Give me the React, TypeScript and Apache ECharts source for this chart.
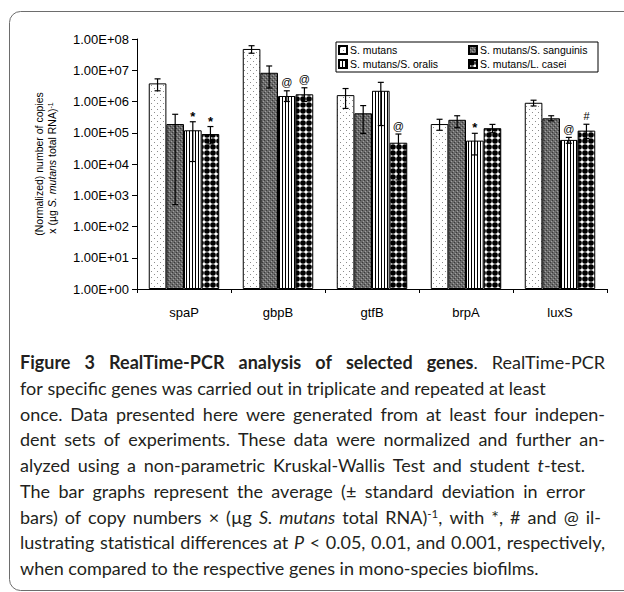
import React, { useEffect, useRef } from "react";
import * as echarts from "echarts";

const categories = ["spaP", "gbpB", "gtfB", "brpA", "luxS"];
const seriesNames = [
  "S. mutans",
  "S. mutans/S. sanguinis",
  "S. mutans/S. oralis",
  "S. mutans/L. casei",
];

const mutansMean = [3.8e6, 4.8e7, 1.6e6, 1.9e5, 9.1e5];
const mutansLow = [2.2e6, 3.5e7, 6.0e5, 1.2e5, 7.2e5];
const mutansHigh = [5.3e6, 6.1e7, 2.6e6, 2.7e5, 1.1e6];

const sanguinisMean = [1.9e5, 8.3e6, 4.2e5, 2.6e5, 2.9e5];
const sanguinisLow = [500, 2.7e6, 9.5e4, 1.45e5, 2.4e5];
const sanguinisHigh = [3.9e5, 1.37e7, 7.4e5, 3.5e5, 3.5e5];

const oralisMean = [1.2e5, 1.5e6, 2.2e6, 5.6e4, 5.9e4];
const oralisLow = [1.2e4, 1.0e6, 1.7e5, 1.95e4, 4.6e4];
const oralisHigh = [2.25e5, 2.2e6, 4.1e6, 9.6e4, 7.1e4];

const caseiMean = [9.1e4, 1.7e6, 4.8e4, 1.4e5, 1.17e5];
const caseiLow = [4.4e4, 1.0e6, 3.1e3, 1.0e5, 6.6e4];
const caseiHigh = [1.58e5, 2.75e6, 9.1e4, 1.85e5, 1.87e5];

const mutansMarks = ["", "", "", "", ""];
const sanguinisMarks = ["", "", "", "", ""];
const oralisMarks = ["*", "@", "", "*", "@"];
const caseiMarks = ["*", "@", "@", "", "#"];

const captionLines = [
  "{b|Figure 3 RealTime-PCR analysis of selected genes}. RealTime-PCR",
  "for specific genes was carried out in triplicate and repeated at least",
  "once. Data presented here were generated from at least four indepen-",
  "dent sets of experiments. These data were normalized and further an-",
  "alyzed using a non-parametric Kruskal-Wallis Test and student {i|t}-test.",
  "The bar graphs represent the average (± standard deviation in error",
  "bars) of copy numbers × (µg {i|S. mutans} total RNA){s|-1}, with *, # and @ il-",
  "lustrating statistical differences at {i|P} < 0.05, 0.01, and 0.001, respectively,",
  "when compared to the respective genes in mono-species biofilms.",
];
// right edge of each caption line (0 = natural width)
const captionRightEdges = [605, 0, 605, 605, 585, 585, 601, 605, 0];

const means = [mutansMean, sanguinisMean, oralisMean, caseiMean];
const lows = [mutansLow, sanguinisLow, oralisLow, caseiLow];
const highs = [mutansHigh, sanguinisHigh, oralisHigh, caseiHigh];
const marks = [mutansMarks, sanguinisMarks, oralisMarks, caseiMarks];

function makePattern(kind: number): HTMLCanvasElement {
  const c = document.createElement("canvas");
  const ctx = c.getContext("2d") as CanvasRenderingContext2D;
  if (kind === 0) {
    c.width = 6;
    c.height = 6;
    ctx.fillStyle = "#ffffff";
    ctx.fillRect(0, 0, 6, 6);
    ctx.fillStyle = "#8c8c8c";
    ctx.fillRect(1, 1, 1, 1);
    ctx.fillRect(4, 4, 1, 1);
  } else if (kind === 1) {
    c.width = 4;
    c.height = 4;
    ctx.fillStyle = "#6a6a6a";
    ctx.fillRect(0, 0, 4, 4);
    ctx.fillStyle = "#3a3a3a";
    ctx.fillRect(0, 0, 1, 1);
    ctx.fillRect(2, 2, 1, 1);
    ctx.fillStyle = "#a0a0a0";
    ctx.fillRect(1, 3, 1, 1);
    ctx.fillRect(3, 1, 1, 1);
  } else if (kind === 2) {
    c.width = 3;
    c.height = 3;
    ctx.fillStyle = "#ffffff";
    ctx.fillRect(0, 0, 3, 3);
    ctx.fillStyle = "#000000";
    ctx.fillRect(0, 0, 1, 3);
  } else {
    c.width = 6;
    c.height = 6;
    ctx.fillStyle = "#ffffff";
    ctx.fillRect(0, 0, 6, 6);
    ctx.fillStyle = "#000000";
    ctx.beginPath();
    ctx.arc(3, 3, 2.8, 0, Math.PI * 2);
    ctx.fill();
  }
  return c;
}

type Seg = { st: string; t: string };

function parseRich(line: string): Seg[] {
  const out: Seg[] = [];
  const re = /\{(\w)\|([^}]*)\}|([^{]+)/g;
  let m: RegExpExecArray | null;
  while ((m = re.exec(line))) {
    if (m[1]) out.push({ st: m[1], t: m[2] });
    else out.push({ st: "r", t: m[3] });
  }
  return out;
}

function splitWords(segs: Seg[]): Seg[][] {
  const words: Seg[][] = [];
  let cur: Seg[] = [];
  for (const sg of segs) {
    const parts = sg.t.split(" ");
    parts.forEach((p, idx) => {
      if (idx > 0) {
        if (cur.length) words.push(cur);
        cur = [];
      }
      if (p.length) cur.push({ st: sg.st, t: p });
    });
  }
  if (cur.length) words.push(cur);
  return words;
}

export default function App() {
  const ref = useRef<HTMLDivElement>(null);

  useEffect(() => {
    if (!ref.current) return;
    const chart = echarts.init(ref.current, undefined, { renderer: "svg" });

    const errItems: { cat: number; s: number; low: number; high: number; mark: string }[] = [];
    for (let s = 0; s < 4; s++) {
      for (let i = 0; i < categories.length; i++) {
        errItems.push({ cat: i, s, low: lows[s][i], high: highs[s][i], mark: marks[s][i] });
      }
    }

    const catGap = 0.25;
    const chartFont = "Liberation Sans, Arial, sans-serif";
    const capFamily = "Lato";
    const capFont = "Lato, Open Sans, sans-serif";
    const capSize = 18;
    const supSize = 11.5;
    const capColor = "#231f20";

    const barSeries = seriesNames.map((name, s) => {
      const pat = makePattern(s);
      return {
        name,
        type: "bar",
        data: means[s],
        barGap: "0%",
        barCategoryGap: "25%",
        itemStyle: {
          color: { image: pat, repeat: "repeat", imageWidth: pat.width, imageHeight: pat.height },
          borderColor: "#000",
          borderWidth: 1,
        },
      };
    });

    // caption: justified word layout
    const mc = document.createElement("canvas").getContext("2d") as CanvasRenderingContext2D;
    const fontFor = (st: string) => {
      if (st === "b") return `bold ${capSize}px "${capFamily}"`;
      if (st === "i") return `italic ${capSize}px "${capFamily}"`;
      if (st === "s") return `${supSize}px "${capFamily}"`;
      return `${capSize}px "${capFamily}"`;
    };
    const segW = (sg: Seg) => {
      mc.font = fontFor(sg.st);
      return mc.measureText(sg.t).width;
    };
    mc.font = fontFor("r");
    const spaceW = mc.measureText(" ").width;

    const richStyles = {
      r: { fontFamily: capFont, fontSize: capSize, fill: capColor },
      b: { fontWeight: "bold", fontFamily: capFont, fontSize: capSize, fill: capColor },
      i: { fontStyle: "italic", fontFamily: capFont, fontSize: capSize, fill: capColor },
      s: { fontFamily: capFont, fontSize: supSize, fill: capColor, verticalAlign: "top" },
    };

    const capLineY0 = 362;
    const capPitch = 25.75;
    const capLeft = 20;
    const captionGraphics: any[] = [];
    captionLines.forEach((line, k) => {
      const words = splitWords(parseRich(line));
      const widths = words.map((w) => w.reduce((a, sg) => a + segW(sg), 0));
      const natural = widths.reduce((a, b) => a + b, 0);
      const target = captionRightEdges[k];
      let gap = spaceW;
      if (target > 0 && words.length > 1) {
        gap = (target - capLeft - natural) / (words.length - 1);
        if (gap < spaceW * 0.6) gap = spaceW * 0.6;
      }
      let x = capLeft;
      words.forEach((w, wi) => {
        const text = w.map((sg) => `{${sg.st}|${sg.t}}`).join("");
        captionGraphics.push({
          type: "text",
          x,
          y: capLineY0 + k * capPitch,
          silent: true,
          style: {
            text,
            fontFamily: capFont,
            fontSize: capSize,
            fill: capColor,
            textVerticalAlign: "middle",
            rich: richStyles,
          },
        });
        x += widths[wi] + gap;
      });
    });

    const option: any = {
      animation: false,
      backgroundColor: "#ffffff",
      textStyle: { fontFamily: chartFont },
      grid: { left: 137, right: 17, top: 39, bottom: 303, containLabel: false },
      legend: {
        data: seriesNames,
        left: 336,
        top: 42,
        width: 266,
        orient: "horizontal",
        padding: [2, 2, 2, 2],
        itemGap: 2,
        itemWidth: 8,
        itemHeight: 8,
        icon: "rect",
        borderColor: "#000",
        borderWidth: 1,
        borderRadius: 0,
        textStyle: {
          fontFamily: chartFont,
          fontSize: 10.5,
          color: "#000",
          width: 116,
          lineHeight: 12,
          padding: [0, 0, 0, -2],
        },
      },
      xAxis: {
        type: "category",
        data: categories,
        boundaryGap: true,
        axisLine: { show: true, lineStyle: { color: "#000", width: 1 } },
        axisTick: { show: true, length: 4, lineStyle: { color: "#000" } },
        axisLabel: { color: "#000", fontSize: 13, margin: 17, fontFamily: chartFont },
        splitLine: { show: false },
      },
      yAxis: {
        type: "log",
        logBase: 10,
        min: 1,
        max: 1e8,
        splitNumber: 8,
        axisLine: { show: true, lineStyle: { color: "#000", width: 1 } },
        axisTick: { show: true, length: 5, lineStyle: { color: "#000" } },
        axisLabel: {
          color: "#000",
          fontSize: 13,
          margin: 8,
          fontFamily: chartFont,
          formatter: (v: number) => {
            const e = Math.round(Math.log10(v));
            return "1.00E+" + (e < 10 ? "0" : "") + e;
          },
        },
        splitLine: { show: false },
      },
      series: [
        ...barSeries,
        {
          name: "err",
          type: "custom",
          z: 10,
          clip: false,
          itemStyle: { color: "#000" },
          encode: { x: 0, y: 1 },
          data: errItems.map((e) => [e.cat, e.high]),
          renderItem: (params: any, api: any) => {
            const it = errItems[params.dataIndex];
            const c0 = api.coord([0, 1]);
            const c1 = api.coord([1, 1]);
            const band = c1[0] - c0[0];
            const total = band * (1 - catGap);
            const bw = total / 4;
            const pH = api.coord([it.cat, it.high]);
            const pL = api.coord([it.cat, it.low]);
            const x = pH[0] - total / 2 + bw * (it.s + 0.5);
            const cap = 3;
            const ls = { stroke: "#000", lineWidth: 1.2 };
            const children: any[] = [
              { type: "line", shape: { x1: x, y1: pH[1], x2: x, y2: pL[1] }, style: ls },
              { type: "line", shape: { x1: x - cap, y1: pH[1], x2: x + cap, y2: pH[1] }, style: ls },
              { type: "line", shape: { x1: x - cap, y1: pL[1], x2: x + cap, y2: pL[1] }, style: ls },
            ];
            if (it.mark) {
              children.push({
                type: "text",
                x: x,
                y: pH[1] - (it.mark === "*" ? -1 : 3),
                style: {
                  text: it.mark,
                  fontFamily: chartFont,
                  fontSize: it.mark === "*" ? 13 : 11,
                  fontWeight: it.mark === "*" ? "bold" : "normal",
                  fill: "#000",
                  textAlign: "center",
                  textVerticalAlign: "bottom",
                },
              });
            }
            return { type: "group", children };
          },
        },
      ],
      graphic: [
        {
          type: "rect",
          silent: true,
          shape: { x: 9.5, y: 11.5, width: 700, height: 579, r: 11 },
          style: { fill: "none", stroke: "#6d6d6d", lineWidth: 1 },
        },
        {
          type: "text",
          x: 39,
          y: 164,
          rotation: Math.PI / 2,
          silent: true,
          style: {
            text: "(Normalized) number of copies",
            fontFamily: chartFont,
            fontSize: 10.5,
            fill: "#000",
            textAlign: "center",
            textVerticalAlign: "middle",
          },
        },
        {
          type: "text",
          x: 52,
          y: 168,
          rotation: Math.PI / 2,
          silent: true,
          style: {
            text: "x (µg {i|S. mutans} total RNA){s|-1}",
            fontFamily: chartFont,
            fontSize: 10.5,
            fill: "#000",
            textAlign: "center",
            textVerticalAlign: "middle",
            rich: {
              i: { fontStyle: "italic", fontFamily: chartFont, fontSize: 10.5, fill: "#000" },
              s: { fontFamily: chartFont, fontSize: 7, fill: "#000", verticalAlign: "top" },
            },
          },
        },
        ...captionGraphics,
      ],
    };

    chart.setOption(option);
    return () => {
      chart.dispose();
    };
  }, []);

  return (
    <div
      ref={ref}
      style={{ position: "fixed", left: 0, top: 0, width: 624, height: 592, background: "#fff" }}
    />
  );
}
